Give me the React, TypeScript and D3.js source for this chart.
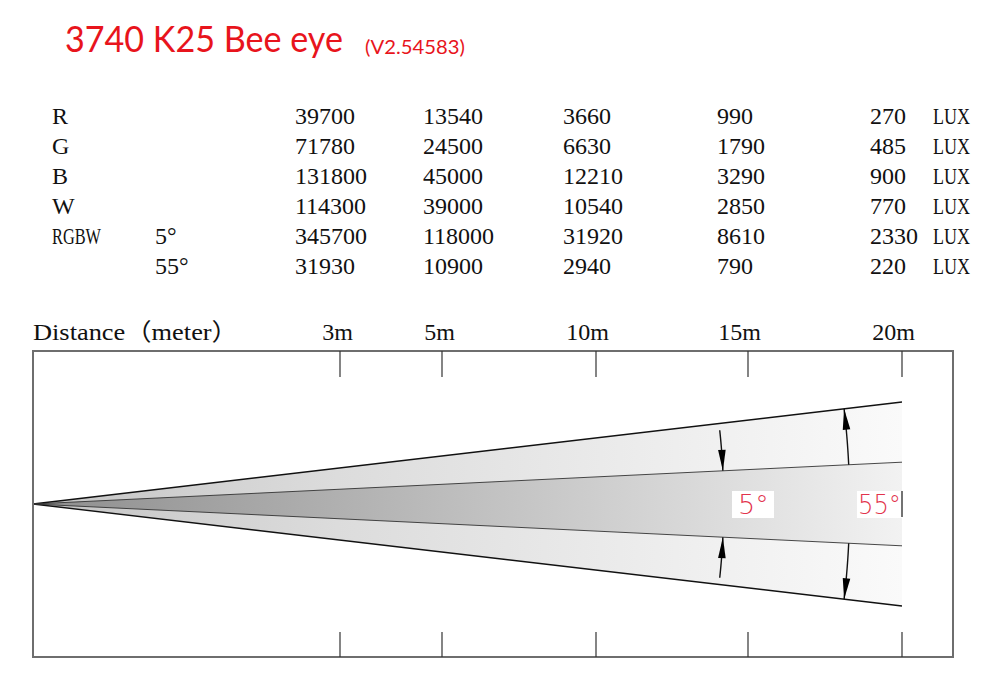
import React from "react";
import * as d3 from "d3";

// ---- data ----
const titleMain = "3740 K25 Bee eye";
const titleVersion = "(V2.54583)";
const rowLabels = ["R", "G", "B", "W", "RGBW", ""];
const rowAngles = ["", "", "", "", "5°", "55°"];
const distances = [3, 5, 10, 15, 20];
const distanceLabels = ["3m", "5m", "10m", "15m", "20m"];
const luxR = [39700, 13540, 3660, 990, 270];
const luxG = [71780, 24500, 6630, 1790, 485];
const luxB = [131800, 45000, 12210, 3290, 900];
const luxW = [114300, 39000, 10540, 2850, 770];
const luxRGBW5 = [345700, 118000, 31920, 8610, 2330];
const luxRGBW55 = [31930, 10900, 2940, 790, 220];
const luxRows = [luxR, luxG, luxB, luxW, luxRGBW5, luxRGBW55];
const unit = "LUX";
const axisTitle = "Distance（meter）";
const beamLabels = ["5°", "55°"];
// schematic lateral half-spread of each beam (units of the lateral scale)
const innerSpread = 0.41;
const outerSpread = 1.0;
// distances at which the angle arrows are drawn (m)
const arrowDist5 = 14.2;
const arrowDist55 = 18.3;

const W = 994;
const H = 690;

export default function App() {
  // layout
  const frame = { left: 33, right: 953, top: 351, bottom: 657 };
  const apexY = 504;
  const x = d3
    .scaleLinear()
    .domain([0, 3, 5, 10, 15, 20])
    .range([frame.left, 340, 442, 596, 748, 902]);
  const y = d3.scaleLinear().domain([-1, 1]).range([apexY + 102, apexY - 102]);

  // table columns
  const colX = [295, 423, 563, 717, 870];
  const rowY = d3.range(6).map((i) => 124 + i * 30);
  const tableFont = "'Liberation Serif', 'Noto Sans CJK SC', serif";
  const halfW = 12; // advance of a half-width character in the table font

  const x0 = x(0);
  const x20 = x(20);
  const beamPoly = (s: number) =>
    d3.line()([
      [x0, y(0)],
      [x20, y(s)],
      [x20, y(-s)],
    ]) + "Z";

  // angles in pixel space
  const angOuter = Math.atan2(y(0) - y(outerSpread), x20 - x0);
  const angInner = Math.atan2(y(0) - y(innerSpread), x20 - x0);

  const arcPoint = (r: number, a: number): [number, number] => [
    x0 + r * Math.cos(a),
    apexY - r * Math.sin(a),
  ];
  const arcPath = (r: number, a1: number, a2: number) => {
    const pts = d3.range(0, 1.0001, 0.05).map((t) => arcPoint(r, a1 + (a2 - a1) * t));
    return d3.line()(pts) as string;
  };
  const arrowHead = (r: number, aFrom: number, aTip: number) => {
    const tip = arcPoint(r, aTip);
    const dir = Math.sign(aTip - aFrom);
    const tx = -Math.sin(aTip) * dir;
    const ty = -Math.cos(aTip) * dir;
    const len = 21;
    const hw = 3.8;
    const bx = tip[0] - tx * len;
    const by = tip[1] - ty * len;
    const nx = -ty;
    const ny = tx;
    return (
      d3.line()([
        tip,
        [bx + nx * hw, by + ny * hw],
        [bx - nx * hw, by - ny * hw],
      ]) + "Z"
    );
  };

  const r5 = x(arrowDist5) - x0;
  const r55 = x(arrowDist55) - x0;
  const a5Tail = angOuter * 0.915;

  const arrows = [
    { r: r5, from: a5Tail, to: angInner },
    { r: r5, from: -a5Tail, to: -angInner },
    { r: r55, from: angInner, to: angOuter },
    { r: r55, from: -angInner, to: -angOuter },
  ];

  const labelColor = "#e2334c";
  const labelFont = "'DejaVu Sans', sans-serif";

  const fit = (s: string) =>
    s.length > 1 && /[A-Za-z]/.test(s)
      ? { textLength: s.length * halfW + 1, lengthAdjust: "spacingAndGlyphs" as const }
      : {};

  return (
    <svg
      width={W}
      height={H}
      viewBox={`0 0 ${W} ${H}`}
      style={{ position: "absolute", left: 0, top: 0, background: "#fff" }}
    >
      <defs>
        <linearGradient id="gOuter" x1={x0} x2={x20} y1={0} y2={0} gradientUnits="userSpaceOnUse">
          <stop offset="0" stopColor="#c4c4c4" />
          <stop offset="0.35" stopColor="#dcdcdc" />
          <stop offset="1" stopColor="#fafafa" />
        </linearGradient>
        <linearGradient id="gInner" x1={x0} x2={x20} y1={0} y2={0} gradientUnits="userSpaceOnUse">
          <stop offset="0" stopColor="#8e8e8e" />
          <stop offset="0.35" stopColor="#b0b0b0" />
          <stop offset="0.75" stopColor="#d8d8d8" />
          <stop offset="1" stopColor="#f2f2f2" />
        </linearGradient>
      </defs>
      <rect width={W} height={H} fill="#fff" />

      {/* title */}
      <text
        x={65}
        y={52}
        fill="#e8141c"
        fontFamily="Lato, 'Open Sans', sans-serif"
        fontSize={37}
        textLength={278}
        lengthAdjust="spacingAndGlyphs"
      >
        {titleMain}
      </text>
      <text
        x={365}
        y={53.5}
        fill="#e8141c"
        fontFamily="Lato, 'Open Sans', sans-serif"
        fontSize={19}
        textLength={100}
        lengthAdjust="spacingAndGlyphs"
      >
        {titleVersion}
      </text>

      {/* table */}
      <g fontFamily={tableFont} fontSize={24} fill="#111">
        {luxRows.map((vals, i) => (
          <g key={i}>
            <text x={52} y={rowY[i]} {...fit(rowLabels[i])}>
              {rowLabels[i]}
            </text>
            <text x={155} y={rowY[i]}>{rowAngles[i]}</text>
            {vals.map((v, j) => (
              <text key={j} x={colX[j]} y={rowY[i]}>
                {String(v)}
              </text>
            ))}
            <text x={933} y={rowY[i]} {...fit(unit)}>
              {unit}
            </text>
          </g>
        ))}
      </g>

      {/* axis labels */}
      <g fontFamily={tableFont} fontSize={24} fill="#111">
        <text x={33} y={340} textLength={205} lengthAdjust="spacingAndGlyphs">
          {axisTitle}
        </text>
        {distances.map((d, i) => (
          <text key={d} x={x(d) + 13} y={340} textAnchor="end">
            {distanceLabels[i]}
          </text>
        ))}
      </g>

      {/* beams */}
      <path d={beamPoly(outerSpread)} fill="url(#gOuter)" />
      <path d={beamPoly(innerSpread)} fill="url(#gInner)" />
      {[outerSpread, -outerSpread].map((s) => (
        <line key={"o" + s} x1={x0} y1={y(0)} x2={x20} y2={y(s)} stroke="#111" strokeWidth={1.4} />
      ))}
      {[innerSpread, -innerSpread].map((s) => (
        <line key={"i" + s} x1={x0} y1={y(0)} x2={x20} y2={y(s)} stroke="#333" strokeWidth={0.9} />
      ))}

      {/* arrows */}
      {arrows.map((a, i) => (
        <g key={i}>
          <path d={arcPath(a.r, a.from, a.to)} fill="none" stroke="#111" strokeWidth={1.4} />
          <path d={arrowHead(a.r, a.from, a.to)} fill="#000" />
        </g>
      ))}

      {/* beam angle labels */}
      <rect x={732} y={491} width={42} height={27} fill="#fff" />
      <text x={738} y={514} fill={labelColor} fontFamily={labelFont} fontWeight={200} fontSize={27}>
        {beamLabels[0]}
      </text>
      <rect x={857} y={491} width={45} height={27} fill="#fff" />
      <text
        x={858}
        y={514}
        fill={labelColor}
        fontFamily={labelFont}
        fontWeight={200}
        fontSize={27}
        textLength={43}
        lengthAdjust="spacingAndGlyphs"
      >
        {beamLabels[1]}
      </text>
      <line x1={902} y1={491} x2={902} y2={517} stroke="#444" strokeWidth={1.5} />

      {/* frame and ticks */}
      <rect
        x={frame.left}
        y={frame.top}
        width={frame.right - frame.left}
        height={frame.bottom - frame.top}
        fill="none"
        stroke="#6e6e6e"
        strokeWidth={2}
      />
      {distances.map((d) => (
        <g key={d}>
          <line x1={x(d)} x2={x(d)} y1={frame.top} y2={377} stroke="#333" strokeWidth={1.2} />
          <line x1={x(d)} x2={x(d)} y1={632} y2={frame.bottom} stroke="#333" strokeWidth={1.2} />
        </g>
      ))}
    </svg>
  );
}
